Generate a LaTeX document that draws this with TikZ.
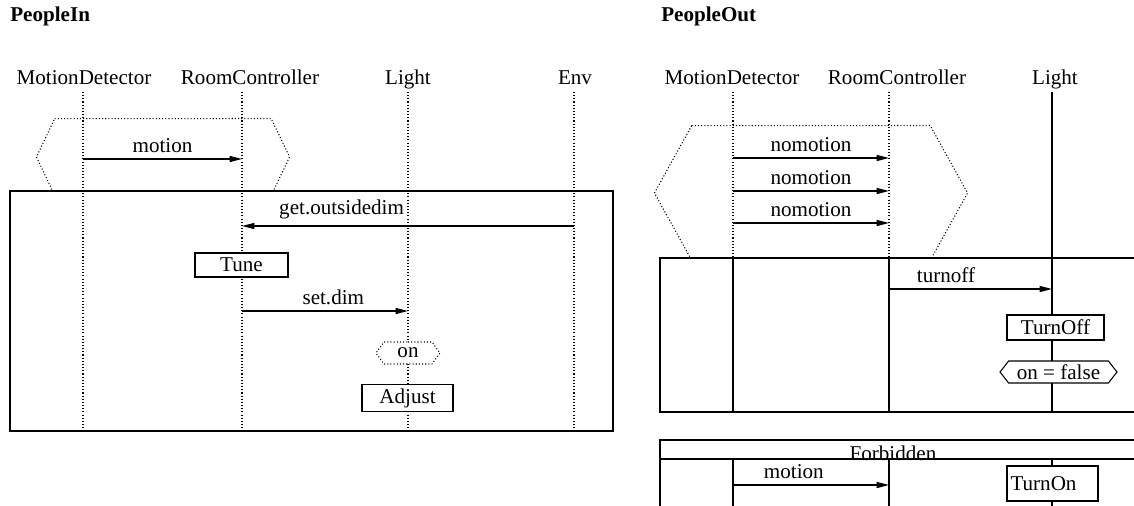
\documentclass[tikz,border=0pt]{standalone}
\usepackage{fontspec}
\setmainfont{Liberation Serif}
\usetikzlibrary{arrows.meta,shapes.symbols}
\tikzset{msg/.style={-{Triangle[length=7pt,width=3.4pt]}, line width=0.7pt},
  life/.style={line width=0.6pt, dash pattern=on 0.6pt off 1.2pt},
  wire/.style={line width=0.6pt},
  frame/.style={draw, line width=0.6pt, fill=white},
  act/.style={draw, line width=0.6pt, fill=white, minimum height=0.48cm, inner sep=2pt},
  cond/.style={draw, line width=0.6pt, fill=white, signal, signal to=east and west, inner sep=1pt},
  hdr/.style={anchor=base},
  ttl/.style={anchor=west, inner sep=0pt, font=\fontsize{12}{14}\selectfont\bfseries}}

\begin{document}
\begin{tikzpicture}[x=0.02cm, y=-0.02cm, font=\fontsize{12}{14}\selectfont]
  \useasboundingbox (0,0) rectangle (1134,505);
  \clip (0,0) rectangle (1134,505);
  % PeopleIn
  \node[ttl] (tIn) at (10,16) {PeopleIn};
  \node[hdr] (mdAh) at (84,84) {MotionDetector};
  \node[hdr] (rcAh) at (250,84) {RoomController};
  \node[hdr] (ltAh) at (408,84) {Light};
  \node[hdr] (envAh) at (575,84) {Env};
  \coordinate (mdA) at (83,92);
  \coordinate (rcA) at (242,92);
  \coordinate (ltA) at (408,92);
  \coordinate (envA) at (574,92);
  \node[cond, draw=none, fill=none, signal pointer angle=129, minimum width=5.04cm, minimum height=1.52cm] (loopA) at (163,157) {};
  \draw[life] (loopA.north west) -- (loopA.north east) -- (loopA.east) -- (loopA.south east) -- (loopA.south west) -- (loopA.west) -- cycle;
  \draw[frame] (10,191) coordinate (fA1) rectangle (613,431) coordinate (fA2);
  \foreach \l in {mdA,rcA,ltA,envA}
    \draw[life] (\l) -- (\l |- fA2);
  \draw[msg] (mdA |- 0,159) -- (rcA |- 0,159) node[midway, above] {motion};
  \draw[msg] (envA |- 0,226) -- (rcA |- 0,226) node[pos=0.7, above] {get.outsidedim};
  \node[act, minimum width=1.86cm] (tune) at (241.5,265) {Tune};
  \draw[msg] (rcA |- 0,311) -- (ltA |- 0,311) node[pos=0.55, above] {set.dim};
  \node[cond, life, signal pointer angle=108, minimum width=1.28cm, minimum height=0.44cm] (onA) at (408,353) {on};
  \node[act, minimum width=1.82cm, minimum height=0.52cm] (adjust) at (407.5,398) {Adjust};
  % PeopleOut
  \node[ttl] (tOut) at (661,16) {PeopleOut};
  \node[hdr] (mdBh) at (732,84) {MotionDetector};
  \node[hdr] (rcBh) at (897,84) {RoomController};
  \node[hdr] (ltBh) at (1055,84) {Light};
  \coordinate (mdB) at (733,92);
  \coordinate (rcB) at (889,92);
  \coordinate (ltB) at (1052,92);
  \node[cond, draw=none, fill=none, signal pointer angle=122, minimum width=6.24cm, minimum height=2.68cm] (loopB) at (811,193) {};
  \draw[life] (loopB.north west) -- (loopB.north east) -- (loopB.east) -- (loopB.south east) -- (loopB.south west) -- (loopB.west) -- cycle;
  \draw[frame] (660,258) coordinate (fB1) rectangle (1150,412) coordinate (fB2);
  \draw[frame] (660,440) coordinate (fC1) rectangle (1150,520) coordinate (fC2);
  \draw[wire] (660,459) coordinate (fC3) -- (1150,459);
  \node[anchor=base, inner sep=0pt] (forb) at (893,460) {Forbidden};
  \foreach \l in {mdB,rcB} {
    \draw[life] (\l) -- (\l |- fB1);
    \draw[wire] (\l |- fB1) -- (\l |- fB2);
    \draw[wire] (\l |- fC3) -- (\l |- fC2);
  }
  \draw[wire] (ltB) -- (ltB |- fB2);
  \draw[wire] (ltB |- fC3) -- (ltB |- fC2);
  \foreach \y in {158,191,223}
    \draw[msg] (mdB |- 0,\y) -- (rcB |- 0,\y) node[midway, above] {nomotion};
  \draw[msg] (rcB |- 0,289) -- (ltB |- 0,289) node[pos=0.35, above] {turnoff};
  \node[act, minimum width=1.94cm, minimum height=0.5cm] (turnoff) at (1055.5,327.5) {TurnOff};
  \node[cond, signal pointer angle=104, minimum width=2.34cm, minimum height=0.44cm] (offB) at (1058.5,372) {on = false};
  \draw[msg] (mdB |- 0,485) -- (rcB |- 0,485) node[pos=0.39, above] {motion};
  \node[act, minimum width=1.82cm, minimum height=0.7cm, text width=1.68cm, align=left] (turnon) at (1052.5,483.5) {TurnOn};
\end{tikzpicture}
\end{document}
